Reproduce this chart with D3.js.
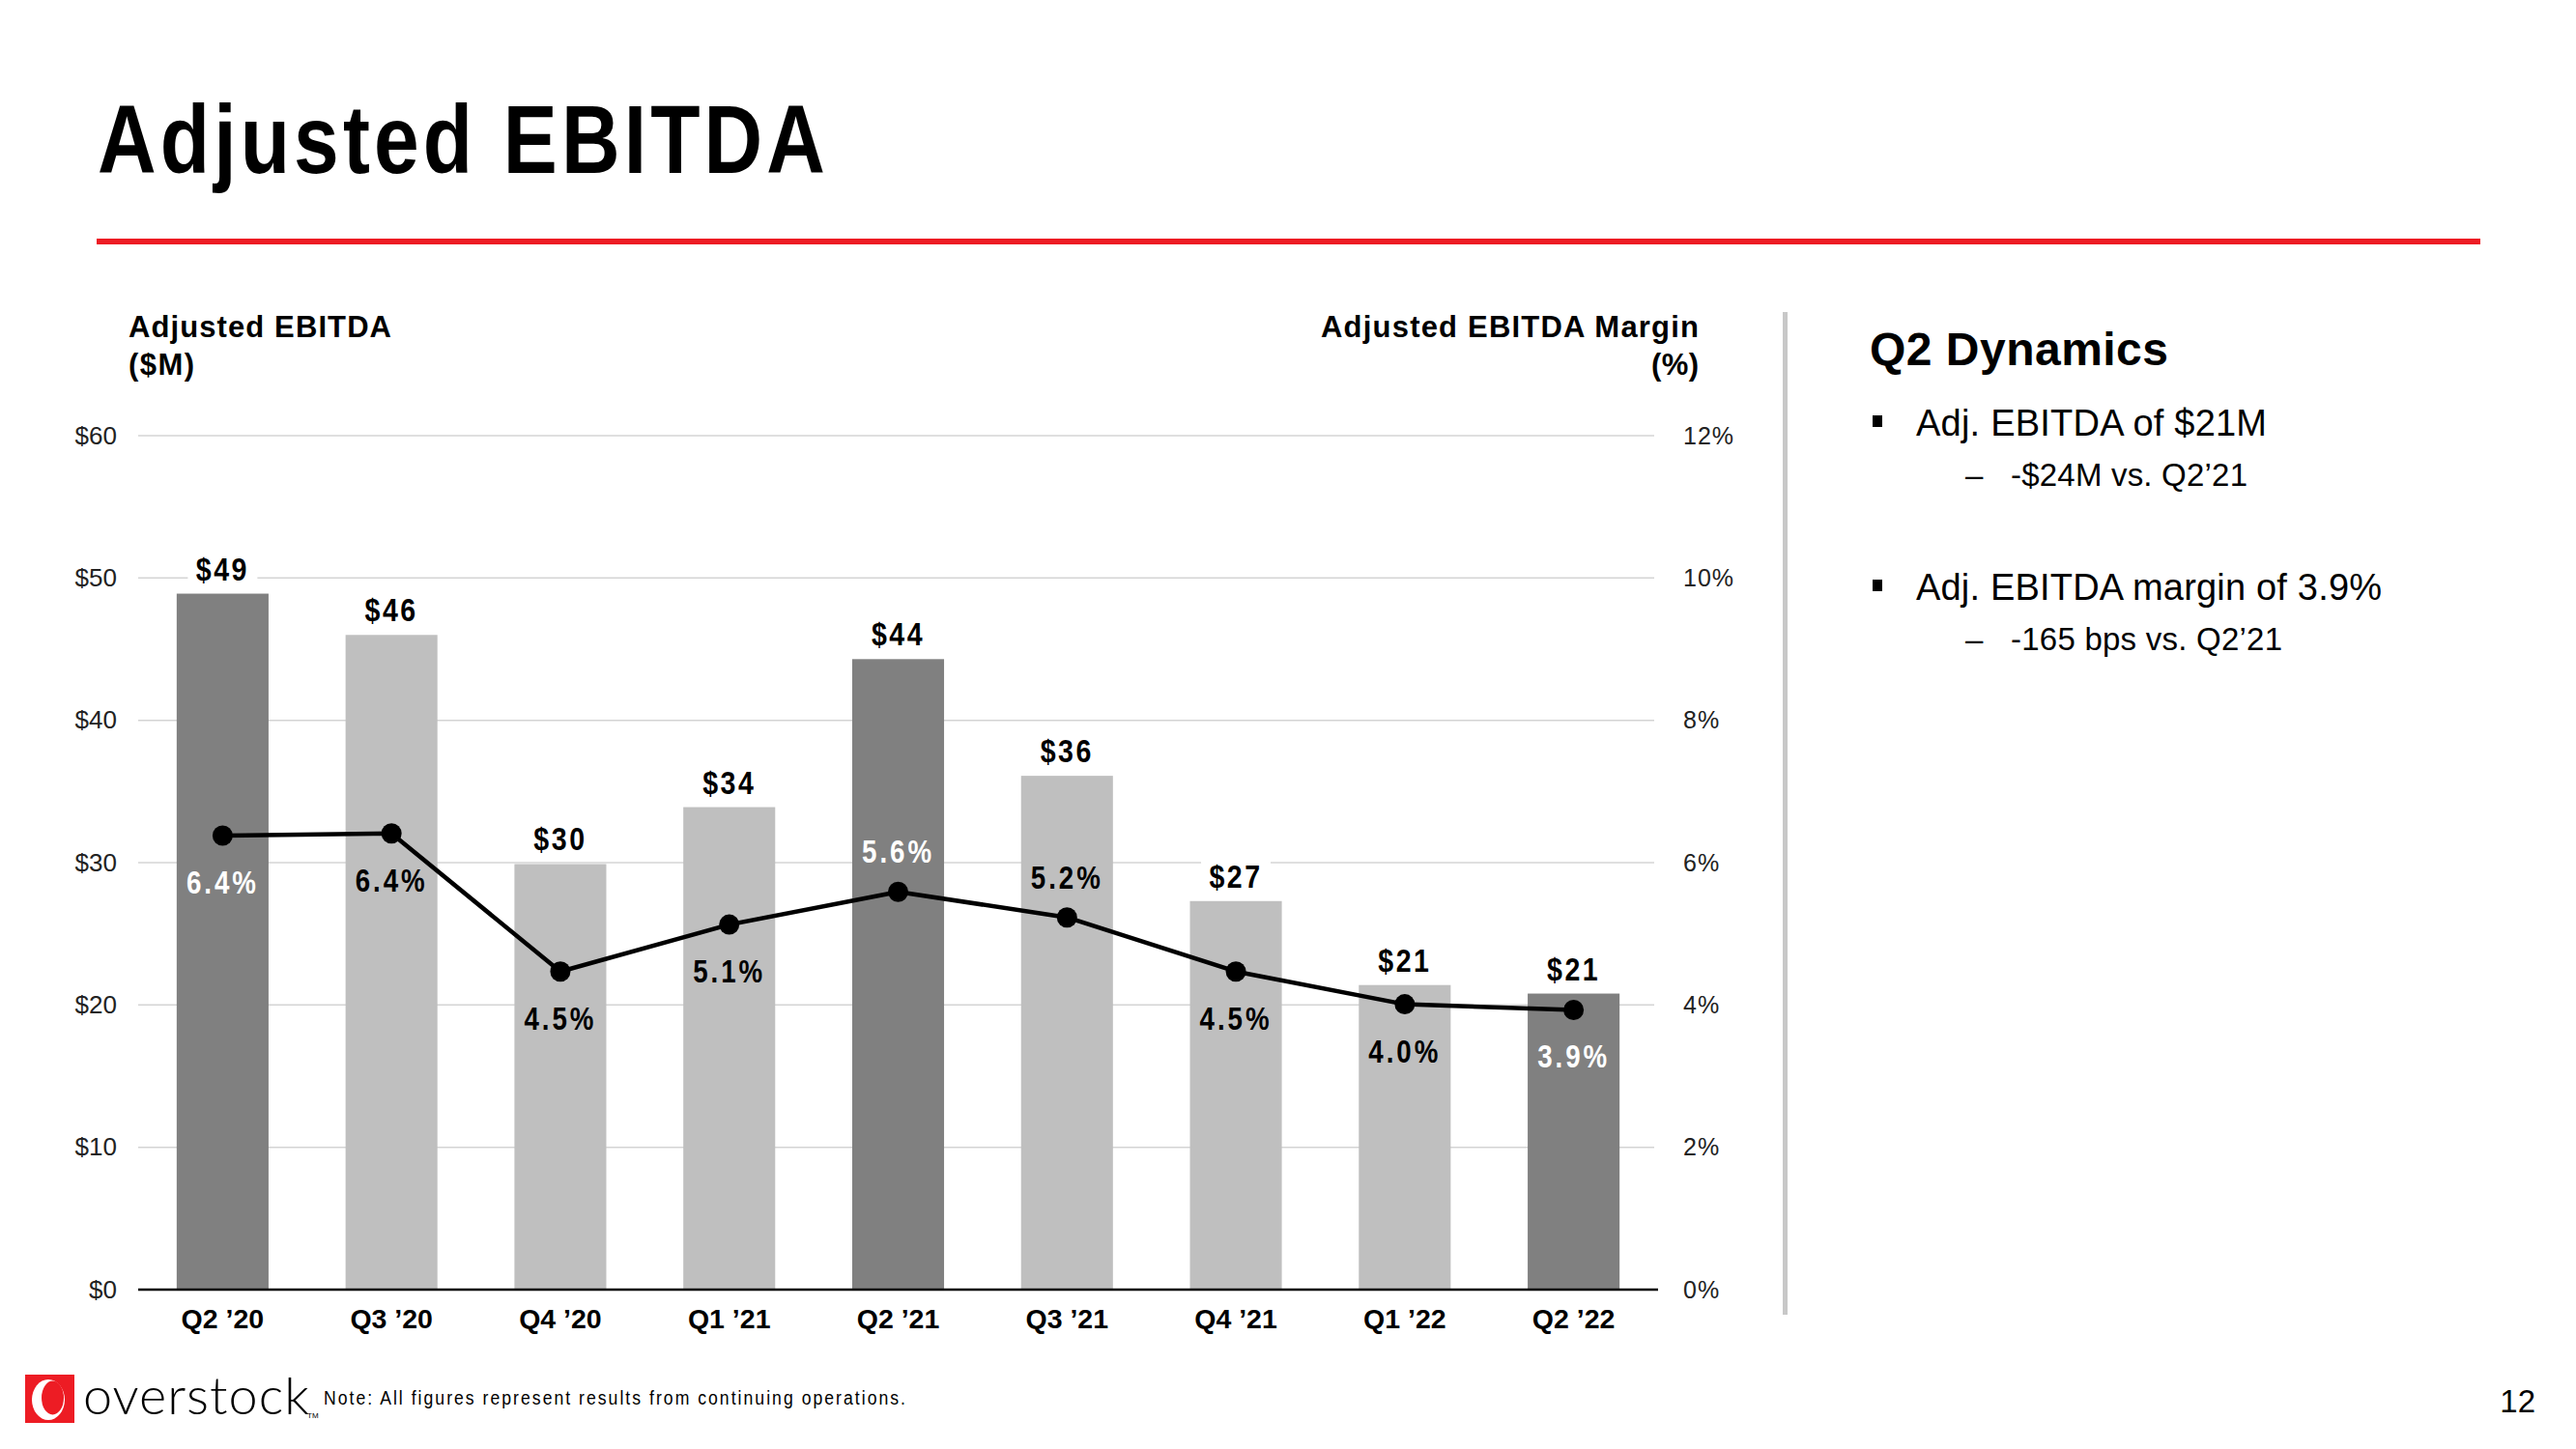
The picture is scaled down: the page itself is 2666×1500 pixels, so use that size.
<!DOCTYPE html>
<html>
<head>
<meta charset="utf-8">
<script src="https://cdn.jsdelivr.net/npm/d3@7"></script>
<style>
  html, body { margin: 0; padding: 0; background: #fff; }
  svg { display: block; }
  text { font-family: "Liberation Sans", Arial, sans-serif; }
</style>
</head>
<body>
<script>
// ---------- DATA ----------
const categories = ["Q2 \u201920", "Q3 \u201920", "Q4 \u201920", "Q1 \u201921", "Q2 \u201921", "Q3 \u201921", "Q4 \u201921", "Q1 \u201922", "Q2 \u201922"];
const ebitda = [48.9, 46.0, 29.9, 33.9, 44.3, 36.1, 27.3, 21.4, 20.8];
const ebitdaLabels = ["$49", "$46", "$30", "$34", "$44", "$36", "$27", "$21", "$21"];
const margin = [6.38, 6.41, 4.47, 5.13, 5.59, 5.23, 4.47, 4.01, 3.93];
const marginLabels = ["6.4%", "6.4%", "4.5%", "5.1%", "5.6%", "5.2%", "4.5%", "4.0%", "3.9%"];
const marginLabelSide = ["below", "below", "below", "below", "above", "above", "below", "below", "below"];
const highlighted = [true, false, false, false, true, false, false, false, true];
const leftTicks = [0, 10, 20, 30, 40, 50, 60];
const rightTicks = [0, 2, 4, 6, 8, 10, 12];

// ---------- SETUP ----------
const W = 2666, H = 1500;
const svg = d3.select("body").append("svg").attr("width", W).attr("height", H);
const NARROW = 0.84;

// Title (narrow glyphs, spaced)
svg.append("g").attr("transform", `translate(101,179) scale(${NARROW},1)`)
  .append("text").attr("font-size", 100).attr("font-weight", "bold").attr("fill", "#000")
  .attr("textLength", 753 / NARROW).attr("lengthAdjust", "spacing")
  .text("Adjusted EBITDA");
svg.append("rect").attr("x", 100).attr("y", 247).attr("width", 2467).attr("height", 6).attr("fill", "#ED1C24");

// Scales
const x = d3.scaleBand().domain(categories).range([143, 1716]).paddingInner(0.456).paddingOuter(0.228);
const yL = d3.scaleLinear().domain([0, 60]).range([1335, 451]);
const yR = d3.scaleLinear().domain([0, 12]).range([1335, 451]);
const cx = (i) => x(categories[i]) + x.bandwidth() / 2;

// Gridlines
svg.append("g").selectAll("line").data(leftTicks.slice(1)).join("line")
  .attr("x1", 143).attr("x2", 1712)
  .attr("y1", d => yL(d)).attr("y2", d => yL(d))
  .attr("stroke", "#d4d4d4").attr("stroke-width", 1.5);

// Left axis
const axL = svg.append("g").attr("transform", "translate(121,0)")
  .call(d3.axisLeft(yL).tickValues(leftTicks).tickSize(0).tickPadding(0).tickFormat(d => "$" + d));
axL.select(".domain").remove();
axL.selectAll("text").attr("font-size", 26).attr("fill", "#222")
  .style("font-family", "'Liberation Sans',Arial,sans-serif");

// Right axis
const axR = svg.append("g").attr("transform", "translate(1742,0)")
  .call(d3.axisRight(yR).tickValues(rightTicks).tickSize(0).tickPadding(0).tickFormat(d => d + "%"));
axR.select(".domain").remove();
axR.selectAll("text").attr("font-size", 25).attr("fill", "#222").attr("letter-spacing", 1)
  .style("font-family", "'Liberation Sans',Arial,sans-serif");

// Axis titles
svg.append("text").attr("x", 133).attr("y", 349).attr("font-size", 31).attr("font-weight", "bold")
  .attr("textLength", 272).attr("lengthAdjust", "spacing").text("Adjusted EBITDA");
svg.append("text").attr("x", 133).attr("y", 388).attr("font-size", 31).attr("font-weight", "bold")
  .attr("textLength", 68).attr("lengthAdjust", "spacing").text("($M)");
svg.append("text").attr("x", 1367).attr("y", 349).attr("font-size", 31).attr("font-weight", "bold")
  .attr("textLength", 391).attr("lengthAdjust", "spacing").text("Adjusted EBITDA Margin");
svg.append("text").attr("x", 1709).attr("y", 388).attr("font-size", 31).attr("font-weight", "bold")
  .attr("textLength", 49).attr("lengthAdjust", "spacing").text("(%)");

// Bars
svg.append("g").selectAll("rect").data(categories).join("rect")
  .attr("x", d => x(d)).attr("width", x.bandwidth())
  .attr("y", (d, i) => yL(ebitda[i])).attr("height", (d, i) => yL(0) - yL(ebitda[i]))
  .attr("fill", (d, i) => highlighted[i] ? "#808080" : "#BFBFBF");

// Baseline
svg.append("line").attr("x1", 143).attr("x2", 1716).attr("y1", yL(0)).attr("y2", yL(0))
  .attr("stroke", "#000").attr("stroke-width", 2.5);

// Bar value labels with white backing
const vl = svg.append("g").selectAll("g").data(categories).join("g")
  .attr("transform", (d, i) => `translate(${cx(i)},${yL(ebitda[i]) - 14})`);
vl.append("rect").attr("x", -36).attr("y", -30).attr("width", 72).attr("height", 36).attr("fill", "#fff");
vl.append("text").attr("text-anchor", "middle").attr("font-size", 34).attr("font-weight", "bold")
  .attr("transform", `scale(${NARROW},1)`)
  .attr("letter-spacing", 3).attr("fill", "#000").text((d, i) => ebitdaLabels[i]);

// Margin line
const line = d3.line().x((d, i) => cx(i)).y(d => yR(d));
svg.append("path").datum(margin).attr("d", line).attr("fill", "none")
  .attr("stroke", "#000").attr("stroke-width", 4.5).attr("stroke-linejoin", "round");
svg.append("g").selectAll("circle").data(margin).join("circle")
  .attr("cx", (d, i) => cx(i)).attr("cy", d => yR(d))
  .attr("r", 10.5).attr("fill", "#000");

// Margin labels
svg.append("g").selectAll("g").data(margin).join("g")
  .attr("transform", (d, i) => `translate(${cx(i)},${yR(d) + (marginLabelSide[i] === "below" ? 60 : -30)}) scale(${NARROW},1)`)
  .append("text")
  .attr("text-anchor", "middle").attr("font-size", 33).attr("font-weight", "bold")
  .attr("letter-spacing", 3.5)
  .attr("fill", (d, i) => highlighted[i] ? "#fff" : "#000")
  .text((d, i) => marginLabels[i]);

// Category labels
svg.append("g").selectAll("text").data(categories).join("text")
  .attr("x", d => x(d) + x.bandwidth() / 2).attr("y", 1375)
  .attr("text-anchor", "middle").attr("font-size", 28.5).attr("font-weight", "bold")
  .attr("fill", "#000").text(d => d);

// Separator
svg.append("rect").attr("x", 1845).attr("y", 323).attr("width", 5).attr("height", 1038).attr("fill", "#c8c8c8");

// Right panel
svg.append("text").attr("x", 1935).attr("y", 378).attr("font-size", 48).attr("font-weight", "bold")
  .attr("textLength", 309).attr("lengthAdjust", "spacing").text("Q2 Dynamics");
const bullets = [
  { y: 451, text: "Adj. EBITDA of $21M", len: 363, sub: "-$24M vs. Q2\u201921", subLen: 245 },
  { y: 621, text: "Adj. EBITDA margin of 3.9%", len: 482, sub: "-165 bps vs. Q2\u201921", subLen: 281 }
];
bullets.forEach(b => {
  svg.append("rect").attr("x", 1938).attr("y", b.y - 21).attr("width", 10).attr("height", 12).attr("fill", "#000");
  svg.append("text").attr("x", 1983).attr("y", b.y).attr("font-size", 38)
    .attr("textLength", b.len).attr("lengthAdjust", "spacing").text(b.text);
  svg.append("text").attr("x", 2034).attr("y", b.y + 52).attr("font-size", 33).text("\u2013");
  svg.append("text").attr("x", 2081).attr("y", b.y + 52).attr("font-size", 33)
    .attr("textLength", b.subLen).attr("lengthAdjust", "spacing").text(b.sub);
});

// Footer logo
svg.append("rect").attr("x", 26).attr("y", 1423).attr("width", 51).attr("height", 50).attr("fill", "#ED1C24");
svg.append("ellipse").attr("cx", 50).attr("cy", 1449).attr("rx", 17).attr("ry", 21).attr("fill", "#fff");
svg.append("ellipse").attr("cx", 54.5).attr("cy", 1447).attr("rx", 11.5).attr("ry", 17.5).attr("fill", "#ED1C24");
svg.append("text").attr("x", 86).attr("y", 1464).attr("font-size", 54).attr("font-weight", 300)
  .style("font-family", "Lato, 'Open Sans', 'Liberation Sans', sans-serif")
  .attr("textLength", 234).attr("lengthAdjust", "spacing").attr("fill", "#000").text("overstock");
svg.append("text").attr("x", 318).attr("y", 1468).attr("font-size", 8).text("TM");
svg.append("g").attr("transform", `translate(335,1454) scale(${NARROW},1)`)
  .append("text").attr("font-size", 21)
  .attr("textLength", 602 / NARROW).attr("lengthAdjust", "spacing")
  .text("Note: All figures represent results from continuing operations.");

// Page number
svg.append("text").attr("x", 2624).attr("y", 1462).attr("text-anchor", "end").attr("font-size", 33).text("12");
</script>
</body>
</html>
